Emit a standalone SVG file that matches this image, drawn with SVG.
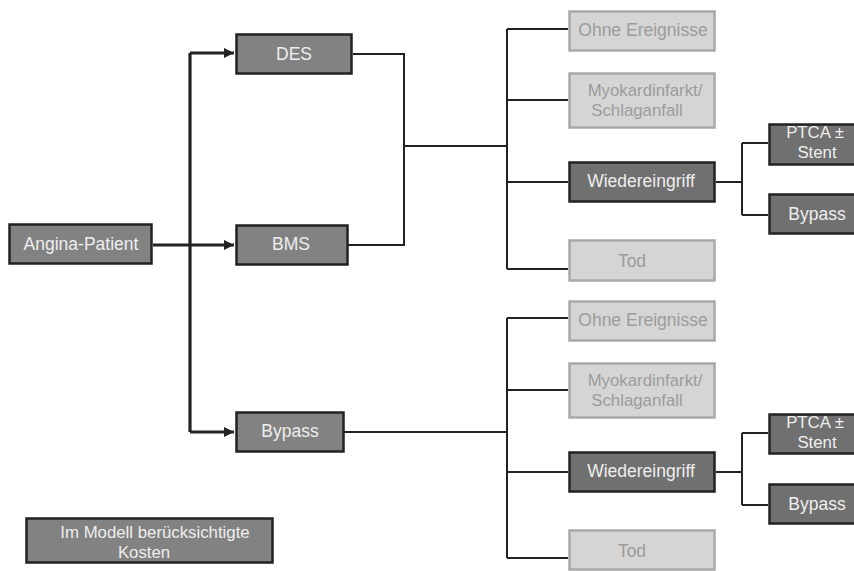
<svg xmlns="http://www.w3.org/2000/svg" width="854" height="571" viewBox="0 0 854 571">
<defs>
<style>
.dark rect{fill:#828282;stroke:#222;stroke-width:2.5}
.darker rect{fill:#707070;stroke:#222;stroke-width:2.5}
.light rect{fill:#d5d5d5;stroke:#a9a9a9;stroke-width:2.5}
text{font-family:"Liberation Sans",Arial,sans-serif;font-size:17.5px;text-anchor:middle}
text.ml{font-size:16.8px}
.dark text,.darker text{fill:#eeeeee}
.light text{fill:#9c9c9c}
.thick{fill:none;stroke:#222;stroke-width:3.2}
.thin{fill:none;stroke:#222;stroke-width:2}
</style>
<marker id="arr" viewBox="0 0 10 10" refX="10" refY="5" markerWidth="10" markerHeight="10" markerUnits="userSpaceOnUse" orient="auto">
<path d="M0,0 L10,5 L0,10 z" fill="#222"/>
</marker>
</defs>
<rect width="854" height="571" fill="#fff"/>
<g id="connectors">
<path class="thick" d="M190,53 V432"/>
<path class="thick" d="M190,53 H234" marker-end="url(#arr)"/>
<path class="thick" d="M153,245 H234" marker-end="url(#arr)"/>
<path class="thick" d="M190,432 H234" marker-end="url(#arr)"/>
<path class="thin" d="M353,54 H404 V245 H348"/>
<path class="thin" d="M404,146 H507"/>
<path class="thin" d="M507,29 V269"/>
<path class="thin" d="M507,29 H568 M507,100 H568 M507,182 H568 M507,269 H568"/>
<path class="thin" d="M716,182 H742 M742,143 V215 M742,143 H768 M742,215 H768"/>
<path class="thin" d="M344,432 H507"/>
<path class="thin" d="M507,318 V558"/>
<path class="thin" d="M507,318 H568 M507,390 H568 M507,472 H568 M507,558 H568"/>
<path class="thin" d="M716,472 H742 M742,433 V505 M742,433 H768 M742,505 H768"/>
</g>
<g id="angina" class="dark"><rect x="9.5" y="224.5" width="142" height="39"/><text x="81" y="250">Angina-Patient</text></g>
<g id="des" class="dark"><rect x="236.5" y="34.5" width="115" height="39"/><text x="294" y="60">DES</text></g>
<g id="bms" class="dark"><rect x="236.5" y="225.5" width="111" height="39"/><text x="291" y="250">BMS</text></g>
<g id="bypass" class="dark"><rect x="236.5" y="412.5" width="107" height="39"/><text x="290" y="437">Bypass</text></g>
<g id="ohne1" class="light"><rect x="569.5" y="11.5" width="145" height="39"/><text x="643" y="36">Ohne Ereignisse</text></g>
<g id="myo1" class="light"><rect x="569.5" y="73.5" width="145" height="54"/><text class="ml" x="645" y="96">Myokardinfarkt/</text><text class="ml" x="637" y="116">Schlaganfall</text></g>
<g id="wieder1" class="darker"><rect x="569.5" y="162.5" width="145" height="39"/><text x="641" y="187">Wiedereingriff</text></g>
<g id="tod1" class="light"><rect x="569.5" y="240.5" width="145" height="40"/><text x="632" y="267">Tod</text></g>
<g id="ptca1" class="darker"><rect x="769.5" y="124.5" width="90" height="40"/><text class="ml" x="815" y="138">PTCA ±</text><text class="ml" x="817" y="158">Stent</text></g>
<g id="bypass1" class="darker"><rect x="769.5" y="194.5" width="90" height="39"/><text x="817" y="220">Bypass</text></g>
<g id="ohne2" class="light"><rect x="569.5" y="301.5" width="145" height="39"/><text x="643" y="326">Ohne Ereignisse</text></g>
<g id="myo2" class="light"><rect x="569.5" y="363.5" width="145" height="54"/><text class="ml" x="645" y="386">Myokardinfarkt/</text><text class="ml" x="637" y="406">Schlaganfall</text></g>
<g id="wieder2" class="darker"><rect x="569.5" y="452.5" width="145" height="39"/><text x="641" y="477">Wiedereingriff</text></g>
<g id="tod2" class="light"><rect x="569.5" y="530.5" width="145" height="39"/><text x="632" y="557">Tod</text></g>
<g id="ptca2" class="darker"><rect x="769.5" y="414.5" width="90" height="39"/><text class="ml" x="815" y="428">PTCA ±</text><text class="ml" x="817" y="448">Stent</text></g>
<g id="bypass2" class="darker"><rect x="769.5" y="484.5" width="90" height="39"/><text x="817" y="510">Bypass</text></g>
<g id="legend" class="dark"><rect x="26.5" y="518.5" width="246" height="44"/><text class="ml" x="155" y="538">Im Modell berücksichtigte</text><text class="ml" x="144" y="558">Kosten</text></g>
</svg>
